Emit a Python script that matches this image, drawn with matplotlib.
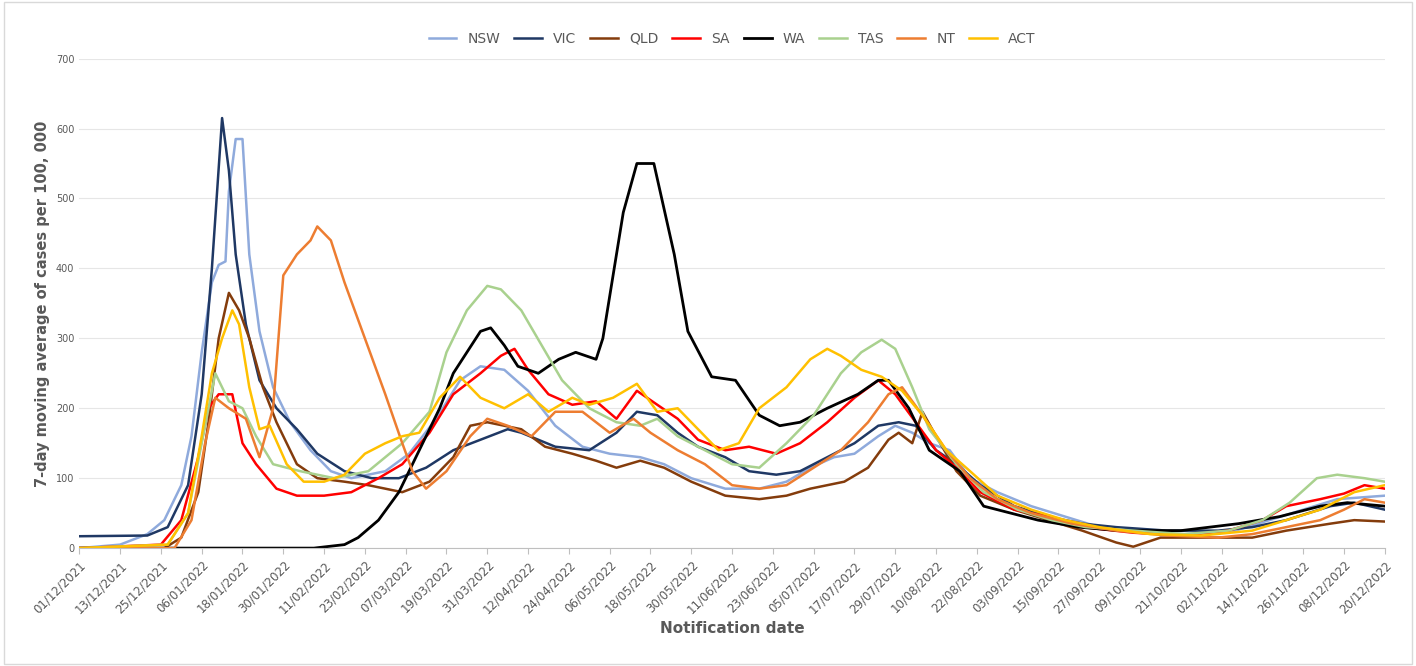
import matplotlib
matplotlib.use("Agg")
import matplotlib.pyplot as plt
import datetime as dt

start = dt.date(2021, 12, 1)
# (days since 01/12/2021, value)
NSW = [(0,0),(12,5),(20,20),(25,40),(30,90),(33,160),(36,280),(39,380),(41,405),(43,410),(44,510),(46,585),(48,585),(50,420),(53,310),(57,230),(62,180),(68,140),(74,110),(80,100),(90,110),(97,135),(105,185),(112,240),(118,260),(125,255),(132,225),(140,175),(148,145),(156,135),(165,130),(172,120),(180,100),(190,85),(200,85),(208,95),(215,115),(222,130),(228,135),(235,160),(240,175),(245,165),(250,150),(256,140),(262,100),(270,80),(280,60),(290,45),(300,30),(312,22),(325,20),(340,25),(350,40),(360,55),(370,70),(384,75)]
VIC = [(0,17),(20,18),(26,30),(32,90),(36,220),(39,400),(42,615),(44,540),(46,420),(49,320),(53,240),(58,200),(64,170),(70,135),(78,110),(86,100),(94,100),(102,115),(110,140),(118,155),(126,170),(130,165),(140,145),(150,140),(158,165),(164,195),(170,190),(176,165),(182,145),(190,130),(197,110),(205,105),(212,110),(220,130),(228,150),(235,175),(241,180),(246,175),(252,140),(258,120),(265,90),(275,60),(285,45),(295,35),(305,30),(320,25),(335,25),(345,30),(355,40),(368,60),(375,65),(384,55)]
QLD = [(0,0),(25,0),(30,15),(35,80),(38,180),(41,300),(44,365),(47,340),(50,300),(54,230),(58,180),(64,120),(70,100),(78,95),(85,90),(95,80),(103,95),(110,130),(115,175),(120,180),(125,175),(130,170),(137,145),(145,135),(152,125),(158,115),(165,125),(172,115),(180,95),(190,75),(200,70),(208,75),(215,85),(225,95),(232,115),(238,155),(241,165),(245,150),(248,195),(252,160),(258,110),(265,75),(275,55),(285,40),(295,25),(305,8),(310,2),(318,15),(330,15),(345,15),(355,25),(368,35),(375,40),(384,38)]
SA = [(0,0),(24,5),(30,40),(35,130),(38,200),(41,220),(45,220),(48,150),(52,120),(58,85),(64,75),(72,75),(80,80),(88,100),(95,120),(103,165),(110,220),(118,250),(124,275),(128,285),(132,255),(138,220),(145,205),(152,210),(158,185),(164,225),(170,205),(176,185),(182,155),(190,140),(197,145),(205,135),(212,150),(220,180),(228,215),(235,240),(240,220),(246,180),(252,140),(258,115),(265,80),(275,55),(285,45),(295,30),(310,22),(325,18),(338,25),(348,40),(355,60),(365,70),(372,78),(378,90),(384,85)]
WA = [(0,0),(69,0),(78,5),(82,15),(88,40),(94,80),(100,140),(106,200),(110,250),(118,310),(121,315),(125,290),(129,260),(135,250),(141,270),(146,280),(152,270),(154,300),(160,480),(164,550),(169,550),(175,420),(179,310),(186,245),(193,240),(200,190),(206,175),(212,180),(220,200),(229,220),(235,240),(238,240),(244,200),(250,140),(259,110),(266,60),(282,40),(294,30),(306,25),(324,25),(341,35),(353,45),(365,60),(373,65),(384,60)]
TAS = [(0,0),(26,5),(32,50),(36,150),(40,250),(44,210),(48,200),(52,160),(57,120),(65,110),(75,100),(85,110),(95,150),(103,195),(108,280),(114,340),(120,375),(124,370),(130,340),(136,290),(142,240),(150,200),(158,180),(165,175),(170,185),(176,160),(184,140),(192,120),(200,115),(208,150),(216,190),(224,250),(230,280),(236,298),(240,285),(245,230),(250,170),(258,120),(266,80),(276,55),(286,40),(296,30),(310,25),(325,20),(338,25),(348,40),(356,65),(364,100),(370,105),(378,100),(384,95)]
NT = [(0,0),(28,0),(33,40),(37,150),(40,215),(44,200),(49,185),(53,130),(57,200),(60,390),(64,420),(68,440),(70,460),(74,440),(78,380),(84,300),(90,220),(95,150),(98,110),(102,85),(108,110),(115,160),(120,185),(126,175),(133,160),(140,195),(148,195),(156,165),(163,185),(168,165),(176,140),(184,120),(192,90),(200,85),(208,90),(216,115),(224,140),(232,180),(238,220),(242,230),(248,190),(255,140),(262,100),(270,70),(280,50),(292,35),(305,25),(320,18),(335,15),(345,20),(355,30),(365,40),(372,55),(378,70),(384,65)]
ACT = [(0,0),(26,5),(32,50),(36,160),(39,250),(42,300),(45,340),(47,320),(50,230),(53,170),(56,175),(61,120),(66,95),(72,95),(78,105),(84,135),(90,150),(95,160),(100,165),(106,215),(112,245),(118,215),(125,200),(132,220),(138,195),(145,215),(150,205),(157,215),(164,235),(170,195),(176,200),(182,170),(188,140),(194,150),(200,200),(208,230),(215,270),(220,285),(224,275),(230,255),(236,245),(242,225),(248,190),(255,140),(262,110),(270,75),(280,55),(290,40),(300,30),(315,20),(330,18),(345,25),(355,40),(365,55),(375,80),(384,90)]

series = {"NSW": NSW, "VIC": VIC, "QLD": QLD, "SA": SA, "WA": WA, "TAS": TAS, "NT": NT, "ACT": ACT}
colors = {"NSW": "#8faadc", "VIC": "#1f3864", "QLD": "#843c0c", "SA": "#ff0000",
          "WA": "#000000", "TAS": "#a9d18e", "NT": "#ed7d31", "ACT": "#ffc000"}
widths = {"WA": 2.0}

fig = plt.figure(figsize=(14.16, 6.66), dpi=100)
fig.patches.append(plt.Rectangle((0.003, 0.003), 0.994, 0.994, transform=fig.transFigure,
                                 fill=False, edgecolor="#d9d9d9", lw=1))
ax = fig.add_axes([0.056, 0.177, 0.922, 0.735])
for name, pts in series.items():
    d, v = zip(*pts)
    ax.plot(d, v, color=colors[name], lw=widths.get(name, 1.8), label=name)

ticks = list(range(0, 385, 12))
ax.set_xticks(ticks)
ax.set_xticklabels([(start + dt.timedelta(days=t)).strftime("%d/%m/%Y") for t in ticks],
                   rotation=45, ha="right", rotation_mode="anchor", fontsize=8.5, color="#595959")
ax.set_xlim(0, 384)
ax.set_ylim(0, 700)
ax.set_yticks(range(0, 701, 100))
ax.tick_params(axis="y", labelsize=7, colors="#595959", length=0)
ax.tick_params(axis="x", length=4, color="#bfbfbf")
ax.grid(axis="y", color="#e6e6e6", lw=0.8)
for s in ["top", "right", "left"]:
    ax.spines[s].set_visible(False)
ax.spines["bottom"].set_color("#bfbfbf")
ax.set_ylabel("7-day moving average of cases per 100, 000", fontsize=10.5, fontweight="bold", color="#595959")
ax.set_xlabel("Notification date", fontsize=11, fontweight="bold", color="#595959", labelpad=4)
ax.legend(loc="upper center", bbox_to_anchor=(0.5, 1.08), ncol=8, frameon=False, fontsize=10,
          handlelength=2.0, columnspacing=1.0, labelcolor="#595959")
fig.savefig("out.png", dpi=100)
